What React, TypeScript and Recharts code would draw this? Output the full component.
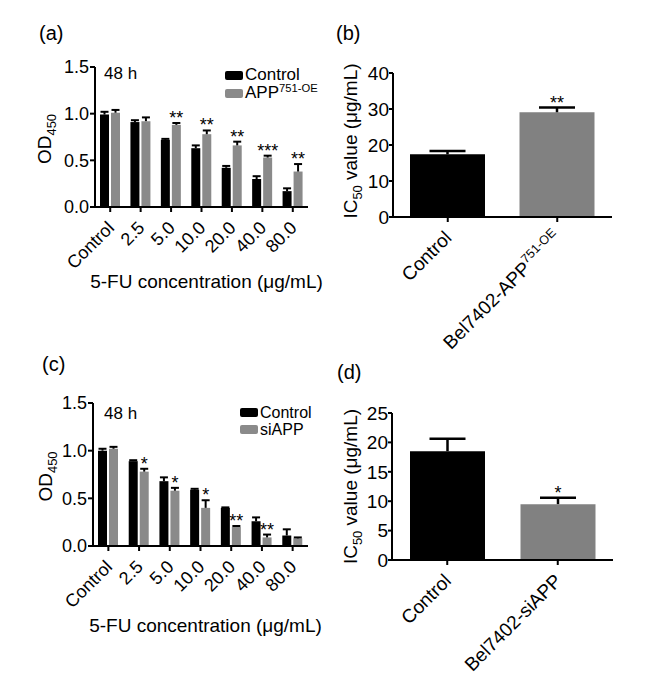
import React from "react";
import { BarChart, Bar, XAxis, YAxis, Legend, LabelList, Rectangle, Cell } from "recharts";

const FONT = '"Liberation Sans", Arial, Helvetica, sans-serif';
const BLACK = "#000000";
const GRAY = "#8a8a8a";
const GRAY_DARK = "#818181";

// (a) and (c): OD450 after 48 h of 5-FU
const doses = ["Control", "2.5", "5.0", "10.0", "20.0", "40.0", "80.0"];

const ctrlA = [0.99, 0.91, 0.72, 0.63, 0.42, 0.3, 0.17];
const ctrlAErr = [0.03, 0.02, 0.01, 0.03, 0.02, 0.03, 0.03];
const oeA = [1.01, 0.92, 0.88, 0.78, 0.66, 0.53, 0.38];
const oeAErr = [0.03, 0.04, 0.02, 0.04, 0.04, 0.02, 0.08];
const starsA = ["", "", "**", "**", "**", "***", "**"];

const ctrlC = [1.0, 0.89, 0.68, 0.59, 0.4, 0.26, 0.11];
const ctrlCErr = [0.02, 0.01, 0.04, 0.01, 0.005, 0.04, 0.065];
const siC = [1.02, 0.78, 0.58, 0.4, 0.2, 0.09, 0.08];
const siCErr = [0.02, 0.03, 0.03, 0.08, 0.01, 0.03, 0.01];
const starsC = ["", "*", "*", "*", "**", "**", ""];

// (b) and (d): IC50 values
const groupsB = ["Control", "Bel7402-APP^751-OE"];
const ic50B = [17.4, 29.1];
const ic50BErr = [0.9, 1.3];
const starsB = ["", "**"];

const groupsD = ["Control", "Bel7402-siAPP"];
const ic50D = [18.5, 9.5];
const ic50DErr = [2.1, 1.1];
const starsD = ["", "*"];

const odTicks = [0, 0.5, 1.0, 1.5];
const ticksB = [0, 10, 20, 30, 40];
const ticksD = [0, 5, 10, 15, 20, 25];

const rowsA = doses.map((d, i) => ({
  dose: d, ctrl: ctrlA[i], ctrlErr: ctrlAErr[i], test: oeA[i], testErr: oeAErr[i], stars: starsA[i],
}));
const rowsC = doses.map((d, i) => ({
  dose: d, ctrl: ctrlC[i], ctrlErr: ctrlCErr[i], test: siC[i], testErr: siCErr[i], stars: starsC[i],
}));
const rowsB = groupsB.map((g, i) => ({ group: g, ic50: ic50B[i], err: ic50BErr[i], stars: starsB[i] }));
const rowsD = groupsD.map((g, i) => ({ group: g, ic50: ic50D[i], err: ic50DErr[i], stars: starsD[i] }));

// bar + upward SEM whisker (GraphPad style, no lower half)
function barWithError(valueKey: string, errKey: string, cap: number, sw: number) {
  return (p: any) => {
    const { x, y, width, height, fill, payload } = p;
    const v = payload[valueKey];
    const e = payload[errKey];
    const errPx = v ? (height * e) / v : 0;
    const cx = x + width / 2;
    const top = y - errPx;
    return (
      <g>
        <Rectangle x={x} y={y} width={width} height={height} fill={fill} />
        <line x1={cx} y1={y} x2={cx} y2={top} stroke={BLACK} strokeWidth={sw} />
        <line x1={cx - cap / 2} y1={top} x2={cx + cap / 2} y2={top} stroke={BLACK} strokeWidth={sw} />
      </g>
    );
  };
}

function starLabel(rows: any[], valueKey: string, errKey: string, fs: number) {
  return (p: any) => {
    const row = rows[p.index];
    if (!row || !row.stars) return null;
    const h = Number(p.height);
    const errPx = (h * row[errKey]) / row[valueKey];
    return (
      <text
        x={Number(p.x) + Number(p.width) / 2}
        y={Number(p.y) - errPx + 1}
        textAnchor="middle"
        fontSize={fs}
        fontFamily={FONT}
        fill={BLACK}
      >
        {row.stars}
      </text>
    );
  };
}

function AngledTick(props: any) {
  const { x, y, payload, fs } = props;
  const [main, sup] = String(payload.value).split("^");
  return (
    <g transform={`translate(${x + 5},${y + 15})`}>
      <text textAnchor="end" transform="rotate(-45)" fontSize={fs} fontFamily={FONT} fill={BLACK}>
        <tspan>{main}</tspan>
        {sup ? (
          <tspan dy={-fs * 0.42} fontSize={fs * 0.66}>
            {sup}
          </tspan>
        ) : null}
      </text>
    </g>
  );
}

function yTitle(main: string, sub: string, rest: string, bx: number, fs: number, shift: number) {
  return (p: any) => {
    const vb = p.viewBox;
    const cy = vb.y + vb.height / 2 + shift;
    return (
      <text transform={`translate(${bx},${cy}) rotate(-90)`} textAnchor="middle" fontSize={fs} fontFamily={FONT} fill={BLACK}>
        <tspan>{main}</tspan>
        <tspan dy={fs * 0.28} fontSize={fs * 0.68}>
          {sub}
        </tspan>
        {rest ? <tspan dy={-fs * 0.28}>{rest}</tspan> : null}
      </text>
    );
  };
}

function xTitle(text: string, below: number, dx: number, fs: number) {
  return (p: any) => {
    const vb = p.viewBox;
    return (
      <text x={vb.x + vb.width / 2 + dx} y={vb.y + below} textAnchor="middle" fontSize={fs} fontFamily={FONT} fill={BLACK}>
        {text}
      </text>
    );
  };
}

function LegendBox({ items, fs, rowH }: { items: { label: string; sup?: string; color: string }[]; fs: number; rowH: number }) {
  return (
    <div style={{ fontFamily: FONT, fontSize: fs, color: BLACK, whiteSpace: "nowrap" }}>
      {items.map((it) => (
        <div key={it.label} style={{ display: "flex", alignItems: "center", height: rowH }}>
          <span style={{ display: "inline-block", width: 18, height: 9, background: it.color, borderRadius: 2, marginRight: 2 }} />
          <span style={{ lineHeight: `${rowH}px` }}>
            {it.label}
            {it.sup ? <sup style={{ fontSize: fs * 0.66, lineHeight: 0, verticalAlign: "0.5em" }}>{it.sup}</sup> : null}
          </span>
        </div>
      ))}
    </div>
  );
}

const axisLine = { stroke: BLACK, strokeWidth: 2 };

function DosePanel(props: {
  rows: any[]; left: number; top: number; height: number; margin: any; xh: number;
  testLabel: string; testSup?: string; legendPos: { left: number; top: number }; rowH: number; legendFs: number;
  titleX: number; titleShift: number; xTitleBelow: number;
}) {
  const { rows, left, top, height, margin, xh, testLabel, testSup, legendPos, rowH } = props;
  return (
    <div style={{ position: "absolute", left, top }}>
      <BarChart width={330} height={height} data={rows} margin={margin} barSize={9} barGap={2}>
        <XAxis
          dataKey="dose"
          interval={0}
          height={xh}
          axisLine={axisLine}
          tickLine={axisLine}
          tickSize={5}
          tickMargin={2}
          tick={<AngledTick fs={18} />}
          label={xTitle("5-FU concentration (\u03bcg/mL)", props.xTitleBelow, 5, 19)}
        />
        <YAxis
          domain={[0, 1.5]}
          ticks={odTicks}
          tickFormatter={(v: number) => v.toFixed(1)}
          width={60}
          axisLine={axisLine}
          tickLine={axisLine}
          tickSize={5}
          tickMargin={1}
          tick={{ fill: BLACK, fontSize: 18, fontFamily: FONT }}
          label={yTitle("OD", "450", "", props.titleX, 19, props.titleShift)}
        />
        <Legend
          layout="vertical"
          align="center"
          verticalAlign="middle"
          wrapperStyle={{ left: legendPos.left, top: legendPos.top, width: "auto" }}
          content={() => (
            <LegendBox
              fs={props.legendFs}
              rowH={rowH}
              items={[
                { label: "Control", color: BLACK },
                { label: testLabel, sup: testSup, color: GRAY },
              ]}
            />
          )}
        />
        <Bar dataKey="ctrl" fill={BLACK} isAnimationActive={false} shape={barWithError("ctrl", "ctrlErr", 8, 2)} />
        <Bar dataKey="test" fill={GRAY} isAnimationActive={false} shape={barWithError("test", "testErr", 8, 2)}>
          <LabelList dataKey="stars" content={starLabel(rows, "test", "testErr", 18)} />
        </Bar>
      </BarChart>
    </div>
  );
}

function Ic50Panel(props: {
  rows: any[]; left: number; top: number; height: number; margin: any; xh: number;
  max: number; ticks: number[]; titleShift: number;
}) {
  const { rows, left, top, height, margin, xh } = props;
  return (
    <div style={{ position: "absolute", left, top }}>
      <BarChart width={322} height={height} data={rows} margin={margin} barSize={75}>
        <XAxis
          dataKey="group"
          interval={0}
          height={xh}
          axisLine={axisLine}
          tickLine={axisLine}
          tickSize={5}
          tickMargin={2}
          tick={<AngledTick fs={19} />}
        />
        <YAxis
          domain={[0, props.max]}
          ticks={props.ticks}
          width={40}
          axisLine={axisLine}
          tickLine={axisLine}
          tickSize={4}
          tickMargin={0}
          tick={{ fill: BLACK, fontSize: 19, fontFamily: FONT }}
          label={yTitle("IC", "50", " value (\u03bcg/mL)", 27, 19, props.titleShift)}
        />
        <Bar dataKey="ic50" isAnimationActive={false} shape={barWithError("ic50", "err", 36, 2.5)}>
          {rows.map((r, i) => (
            <Cell key={r.group} fill={i === 0 ? BLACK : GRAY_DARK} />
          ))}
          <LabelList dataKey="stars" content={starLabel(rows, "ic50", "err", 18)} />
        </Bar>
      </BarChart>
    </div>
  );
}

export default function App() {
  const letter = { fontSize: 20, fontFamily: FONT, fill: BLACK } as const;
  return (
    <div style={{ position: "absolute", left: 0, top: 0, width: 652, height: 693, background: "#fff", overflow: "hidden" }}>
      <DosePanel
        rows={rowsA}
        left={0}
        top={40}
        height={275}
        margin={{ top: 27, right: 22, bottom: 28, left: 35 }}
        xh={80}
        testLabel="APP"
        testSup="751-OE"
        legendPos={{ left: 225, top: 26 }}
        rowH={18}
        legendFs={17}
        titleX={51}
        titleShift={2}
        xTitleBelow={81}
      />
      <Ic50Panel
        rows={rowsB}
        left={330}
        top={40}
        height={328}
        margin={{ top: 33, right: 40, bottom: 3, left: 23 }}
        xh={148}
        max={40}
        ticks={ticksB}
        titleShift={-4}
      />
      <DosePanel
        rows={rowsC}
        left={0}
        top={360}
        height={300}
        margin={{ top: 43, right: 22, bottom: 24, left: 33 }}
        xh={90}
        testLabel="siAPP"
        legendPos={{ left: 240, top: 44 }}
        rowH={17}
        legendFs={16}
        titleX={52}
        titleShift={2}
        xTitleBelow={86}
      />
      <Ic50Panel
        rows={rowsD}
        left={330}
        top={370}
        height={323}
        margin={{ top: 43, right: 39, bottom: 3, left: 22 }}
        xh={130}
        max={25}
        ticks={ticksD}
        titleShift={0}
      />
      <svg width={652} height={693} style={{ position: "absolute", left: 0, top: 0, pointerEvents: "none" }}>
        <text x={39} y={40} {...letter}>(a)</text>
        <text x={336} y={40} {...letter}>(b)</text>
        <text x={42} y={371} {...letter}>(c)</text>
        <text x={337} y={379} {...letter}>(d)</text>
        <text x={104} y={79} fontSize={17} fontFamily={FONT} fill={BLACK}>48 h</text>
        <text x={104} y={419} fontSize={17} fontFamily={FONT} fill={BLACK}>48 h</text>
      </svg>
    </div>
  );
}
